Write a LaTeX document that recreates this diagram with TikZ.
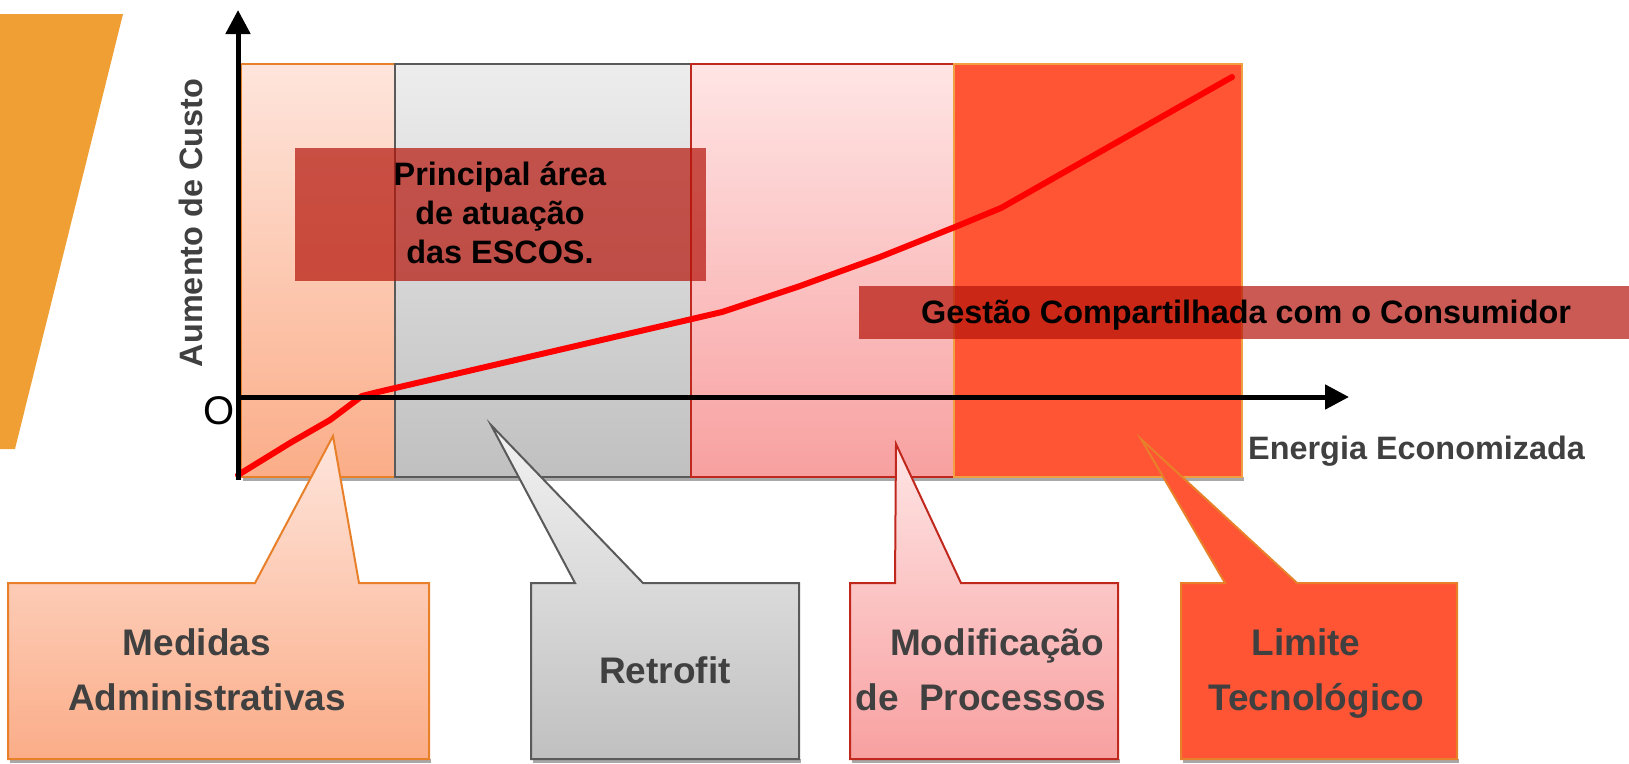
\documentclass[tikz,border=0pt]{standalone}
\usepackage{fontspec}
\setmainfont{Liberation Sans}
\usetikzlibrary{arrows.meta}
\definecolor{orangebar}{HTML}{EF9F33}
\definecolor{bAtop}{HTML}{FEE5DC}
\definecolor{bAbot}{HTML}{FBAD88}
\definecolor{bAline}{HTML}{E8802A}
\definecolor{bBtop}{HTML}{EDEDED}
\definecolor{bBbot}{HTML}{C0C0C0}
\definecolor{bBline}{HTML}{5A5A5A}
\definecolor{bCtop}{HTML}{FFE5E5}
\definecolor{bCbot}{HTML}{F8A0A0}
\definecolor{bCline}{HTML}{C0281E}
\definecolor{bD}{HTML}{FF5535}
\definecolor{bDline}{HTML}{F0A040}
\definecolor{hatch}{HTML}{B4140A}
\definecolor{txtgray}{HTML}{404040}
\definecolor{shadowgray}{HTML}{A8A8A8}
\newcommand\myfs[1]{\fontsize{#1}{#1}\selectfont}
\tikzset{
  bandline/.style={line width=1.5pt},
  calloutline/.style={line width=2pt},
  hatchbox/.style={fill=hatch, fill opacity=0.7},
  boldtxt/.style={font=\bfseries\myfs{32.4}, inner sep=0pt},
  calltxt/.style={font=\bfseries\myfs{37}, text=txtgray, inner sep=0pt, anchor=base},
  axisline/.style={line width=5pt, -{Triangle[length=24pt,width=24pt]}},
}
\begin{document}
\begin{tikzpicture}[x=1pt,y=-1pt]
\useasboundingbox (0,0) rectangle (1629,763);
% orange bar at left
\fill[orangebar] (0,14) -- (123,14) -- (15,449) -- (0,449) -- cycle;
% shadows
\fill[shadowgray] (243,477) rectangle (1244,481);
% bands
\shade[top color=bAtop, bottom color=bAbot] (241,64) rectangle (395,477);
\draw[bandline, bAline] (241,64) rectangle (395,477);
\shade[top color=bBtop, bottom color=bBbot] (395,64) rectangle (691,477);
\draw[bandline, bBline] (395,64) rectangle (691,477);
\shade[top color=bCtop, bottom color=bCbot] (691,64) rectangle (954,477);
\draw[bandline, bCline] (691,64) rectangle (954,477);
\fill[bD] (954,64) rectangle (1242,477);
\draw[bandline, bDline] (954,64) rectangle (1242,477);
% hatched boxes
\fill[hatchbox] (295,148) rectangle (706,281);
\fill[hatchbox] (859,286) rectangle (1629,339);
\node[boldtxt, anchor=base] (p1) at (500,185) {Principal área};
\node[boldtxt, anchor=base] (p2) at (500,224) {de atuação};
\node[boldtxt, anchor=base] (p3) at (500,263) {das ESCOS.};
\node[boldtxt, anchor=base] (gest) at (1246,323) {Gestão Compartilhada com o Consumidor};
% cost curve
\draw[red, line width=6pt, line join=round, line cap=round]
  (238,475) -- (290,443) -- (330,420) -- (362,396) -- (378,392) -- (722,312)
  -- (800,286) -- (880,257) -- (955,227) -- (1001,208) -- (1232,77);
% axes
\coordinate (yb) at (238,480);
\coordinate (yt) at (238,10);
\coordinate (xl) at (236,397);
\coordinate (xr) at (1349,397);
\draw[axisline] (yb) -- (yt);
\draw[axisline] (xl) -- (xr);
\node[inner sep=0pt, anchor=base, font=\myfs{40}] (zero) at (219,424) {O};
\node[boldtxt, text=txtgray, anchor=base, rotate=90] (ylab) at (202,223) {Aumento de Custo};
\node[boldtxt, text=txtgray, anchor=base west] (xlab) at (1248,459) {Energia Economizada};
% callout shadows
\fill[shadowgray] (10,759) rectangle (431,763);
\fill[shadowgray] (533,759) rectangle (801,763);
\fill[shadowgray] (852,759) rectangle (1120,763);
\fill[shadowgray] (1183,759) rectangle (1459,763);
% callouts
\coordinate (tA) at (333,436);
\coordinate (tB) at (491,425);
\coordinate (tC) at (896,444);
\coordinate (tD) at (1141,439);
\shade[top color=bAtop, bottom color=bAbot] (8,583) -- (255,583) -- (tA) -- (359,583) -- (429,583) -- (429,759) -- (8,759) -- cycle;
\draw[calloutline, bAline, line join=miter] (8,583) -- (255,583) -- (tA) -- (359,583) -- (429,583) -- (429,759) -- (8,759) -- cycle;
\shade[top color=white!95!black, bottom color=bBbot] (531,583) -- (575,583) -- (tB) -- (643,583) -- (799,583) -- (799,759) -- (531,759) -- cycle;
\draw[calloutline, bBline] (531,583) -- (575,583) -- (tB) -- (643,583) -- (799,583) -- (799,759) -- (531,759) -- cycle;
\shade[top color=bCtop, bottom color=bCbot] (850,583) -- (895,583) -- (tC) -- (961,583) -- (1118,583) -- (1118,759) -- (850,759) -- cycle;
\draw[calloutline, bCline] (850,583) -- (895,583) -- (tC) -- (961,583) -- (1118,583) -- (1118,759) -- (850,759) -- cycle;
\fill[bD] (1181,583) -- (1225,583) -- (tD) -- (1297,583) -- (1457,583) -- (1457,759) -- (1181,759) -- cycle;
\draw[calloutline, bAline] (1181,583) -- (1225,583) -- (tD) -- (1297,583) -- (1457,583) -- (1457,759) -- (1181,759) -- cycle;
% callout texts
\node[calltxt] (ma1) at (197,655) {Medidas};
\node[calltxt] (ma2) at (207,710) {Administrativas};
\node[calltxt] (rf) at (665,683) {Retrofit};
\node[calltxt] (mp1) at (997,655) {Modificação};
\node[calltxt] (mp2) at (981,710) {de\ \ Processos};
\node[calltxt] (lt1) at (1306,655) {Limite};
\node[calltxt] (lt2) at (1316,710) {Tecnológico};
\end{tikzpicture}
\end{document}
